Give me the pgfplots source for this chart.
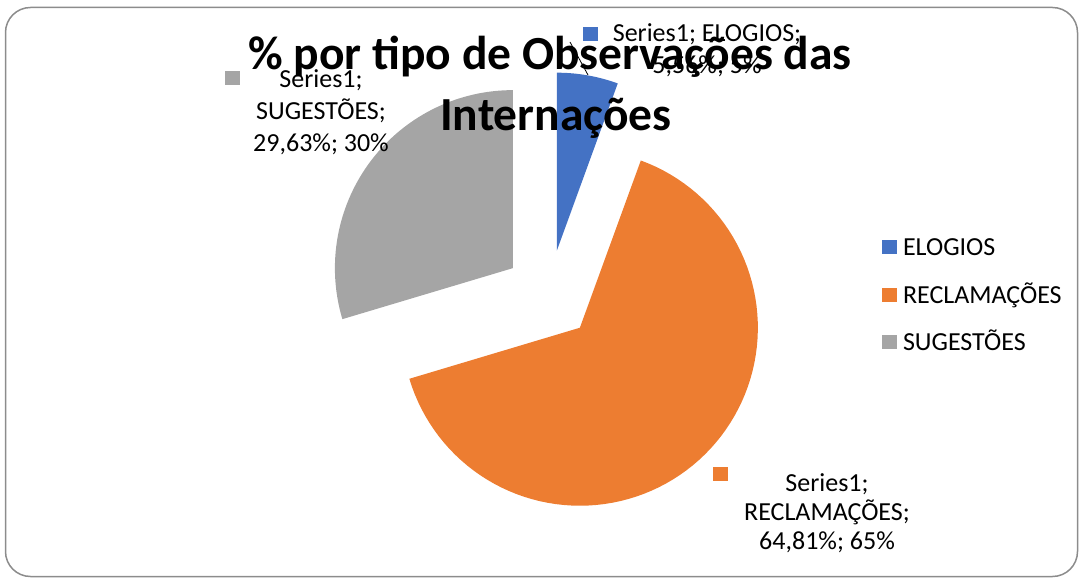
\documentclass[border=0pt]{standalone}
\usepackage{pgfplots}
\pgfplotsset{compat=1.18}
\usepackage{pgfplotstable}
\usepackage{fontspec}
\setmainfont{Carlito}

\definecolor{cEl}{HTML}{4472C4}
\definecolor{cRe}{HTML}{ED7D31}
\definecolor{cSu}{HTML}{A5A5A5}
\definecolor{frameGray}{HTML}{8C8C8C}

\newcommand\lbl{\fontsize{26bp}{31bp}\selectfont}
\newcommand\ttl{\fontsize{47.5bp}{58bp}\selectfont\bfseries}

% share of each kind of observation (%)
\pgfplotstableread{
label pct
ELOGIOS 5.56
RECLAMACOES 64.81
SUGESTOES 29.63
}\pietable

\pgfplotstablegetelem{0}{pct}\of\pietable \let\pA\pgfplotsretval
\pgfplotstablegetelem{1}{pct}\of\pietable \let\pB\pgfplotsretval
\pgfplotstablegetelem{2}{pct}\of\pietable \let\pC\pgfplotsretval

% pie geometry (px, y up)
\def\cx{549}\def\cy{284}\def\R{178}\def\ex{45}
\pgfmathsetmacro\aA{90}
\pgfmathsetmacro\aB{\aA-3.6*\pA}
\pgfmathsetmacro\aC{\aB-3.6*\pB}
\pgfmathsetmacro\aD{\aC-3.6*\pC}

% #1 low angle, #2 high angle, #3 colour
\newcommand\slice[3]{%
  \pgfmathsetmacro\mid{(#1+#2)/2}%
  \pgfmathsetmacro\ox{\cx+\ex*cos(\mid)}%
  \pgfmathsetmacro\oy{\cy+\ex*sin(\mid)}%
  \edef\temp{\noexpand\addplot[fill=#3, draw=none, domain=#1:#2, samples=90]
    ({\ox+\R*cos(x)},{\oy+\R*sin(x)}) -- (axis cs:\ox,\oy) -- cycle;}%
  \temp
}

\begin{document}
\begin{tikzpicture}
\begin{axis}[
  name=main,
  width=1083bp, height=579bp, scale only axis,
  xmin=0, xmax=1083, ymin=0, ymax=579,
  hide axis, clip=false,
  legend image code/.code={\fill[#1] (0bp,1.5bp) rectangle (15bp,15.5bp);},
  legend style={at={(axis cs:882,340)}, anchor=north west, draw=none, fill=none,
    font=\lbl, inner sep=0pt, outer sep=0pt, row sep=23.5bp, column sep=6bp,
    nodes={inner sep=0pt, text height=17bp, text depth=7bp, anchor=base west}},
]
  \slice{\aB}{\aA}{cEl}
  \addlegendentry{ELOGIOS}
  \slice{\aC}{\aB}{cRe}
  \addlegendentry{RECLAMAÇÕES}
  \slice{\aD}{\aC}{cSu}
  \addlegendentry{SUGESTÕES}

  % chart frame
  \draw[frameGray, line width=1.5bp, rounded corners=25bp]
    (axis cs:5.5,571.5) rectangle (axis cs:1077.5,2.5);

  % data labels
  \draw[black, line width=0.8bp] (axis cs:570,537) -- (axis cs:588,504);
  \node[anchor=south west, inner sep=0pt] at (axis cs:583,538) {\textcolor{cEl}{\rule{15bp}{14bp}}};
  \node[font=\lbl, anchor=base, inner sep=0pt] at (axis cs:707,537) {Series1; ELOGIOS;};
  \node[font=\lbl, anchor=base, inner sep=0pt] at (axis cs:707,505) {5,56\%; 5\%};

  \node[anchor=south west, inner sep=0pt] at (axis cs:225,494) {\textcolor{cSu}{\rule{15bp}{14bp}}};
  \node[font=\lbl, anchor=base, inner sep=0pt] at (axis cs:321,491) {Series1;};
  \node[font=\lbl, anchor=base, inner sep=0pt] at (axis cs:321,459) {SUGESTÕES;};
  \node[font=\lbl, anchor=base, inner sep=0pt] at (axis cs:321,427) {29,63\%; 30\%};

  \node[anchor=south west, inner sep=0pt] at (axis cs:713,98) {\textcolor{cRe}{\rule{15bp}{14bp}}};
  \node[font=\lbl, anchor=base, inner sep=0pt] at (axis cs:827,88) {Series1;};
  \node[font=\lbl, anchor=base, inner sep=0pt] at (axis cs:827,59) {RECLAMAÇÕES;};
  \node[font=\lbl, anchor=base, inner sep=0pt] at (axis cs:827,30) {64,81\%; 65\%};

  % title
  \node[font=\ttl, anchor=base, inner sep=0pt] at (axis cs:550,509) {\% por tipo de Observações das};
  \node[font=\ttl, anchor=base, inner sep=0pt] at (axis cs:556,448) {Internações};
\end{axis}
\pgfresetboundingbox
\path (main.south west) rectangle (main.north east);
\end{tikzpicture}
\end{document}
